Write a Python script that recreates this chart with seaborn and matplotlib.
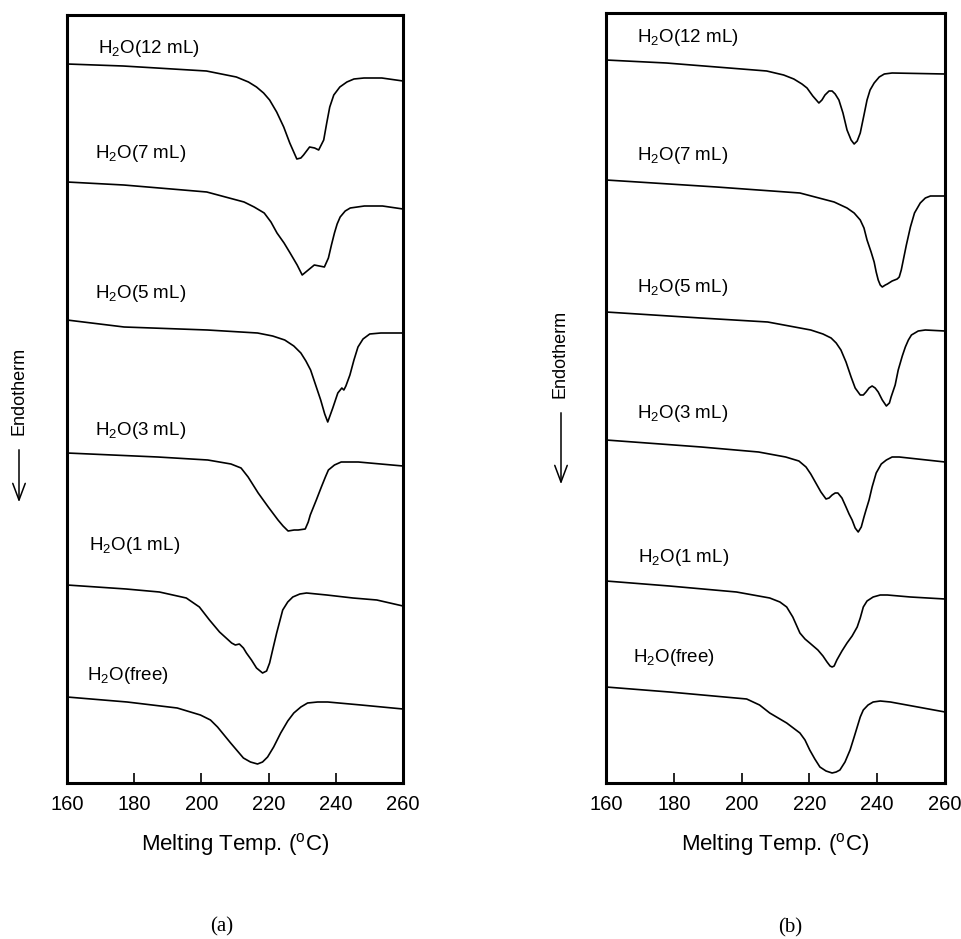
import pandas as pd
import matplotlib.pyplot as plt
import seaborn as sns

sns.set_style('white')
plt.rcParams['font.family'] = ['Liberation Sans', 'DejaVu Sans']
plt.rcParams['mathtext.fontset'] = 'custom'
plt.rcParams['mathtext.rm'] = 'Liberation Sans'
plt.rcParams['mathtext.it'] = 'Liberation Sans:italic'
plt.rcParams['text.color'] = 'black'
plt.rcParams['axes.labelcolor'] = 'black'
plt.rcParams['xtick.color'] = 'black'

# DSC traces: temperature (C) and signal (arbitrary units, stacked)
names = ['12 mL', '7 mL', '5 mL', '3 mL', '1 mL', 'free']

# panel (a)
a_12_t = [160, 176.7, 201.5, 210.4, 214, 216.4, 218.5, 220.3, 222.4, 224.5, 226.3, 228.4, 229.6, 230.4, 232.2,
          233.7, 234.9, 236.4, 237.3, 238.2, 239.4, 241.2, 243.3, 245.4, 248.4, 253.7, 260]
a_12_v = [719, 717, 712, 706, 701, 696, 690, 683, 671, 656, 640, 624, 625, 628, 636,
          635, 633, 643, 660, 676, 688, 696, 701, 704, 705, 705, 702]
a_7_t = [160, 176.9, 201.6, 212.7, 215.7, 218.7, 220.7, 222.5, 224.6, 226.4, 228.5, 230, 231.8, 233.6, 235.1,
         236.6, 237.8, 238.7, 239.6, 240.4, 241.3, 242.8, 244.3, 248.5, 253.9, 260]
a_7_v = [601, 598, 591, 581, 576, 570, 561, 550, 540, 530, 518, 508, 513, 518, 517,
         516, 525, 538, 550, 559, 566, 572, 575, 577, 577, 574]
a_5_t = [160, 177, 201.8, 216.7, 221.2, 224.8, 227.5, 229.6, 231.1, 232.5, 234, 235.5, 236.7, 237.6, 239.1,
         240.6, 241.8, 242.4, 243, 244.2, 245.4, 246.6, 248.1, 250.1, 253.4, 260]
a_5_v = [463, 456, 453, 450, 447, 443, 437, 430, 422, 413, 398, 383, 369, 361, 375,
         390, 395, 393, 397, 408, 423, 436, 444, 449, 450, 450]
a_3_t = [160, 187, 201.9, 208.8, 211.8, 213.9, 215.4, 216.9, 219.9, 222.8, 224.3, 225.8, 227.6, 228.8, 230.9,
         231.8, 232.4, 234.2, 235.7, 236.9, 237.8, 239.6, 241.6, 246.7, 260]
a_3_v = [330, 326, 323, 319, 315, 306, 298, 290, 276, 263, 257, 252, 253, 253, 254,
         261, 268, 283, 296, 306, 313, 318, 321, 321, 317]
a_1_t = [160, 177.6, 187.5, 195.5, 199.4, 202.4, 205.4, 209, 210.1, 211.3, 212.5, 213.4, 214.9, 216.4, 218.2,
         219.4, 220.3, 221.2, 222.4, 224.2, 225.7, 227.2, 229.3, 231.3, 237.3, 245.1, 252.2, 260]
a_1_v = [198, 194, 191, 185, 176, 163, 151, 140, 138, 139, 135, 130, 123, 115, 110,
         112, 120, 133, 150, 173, 181, 186, 189, 190, 188, 185, 183, 177]
a_f_t = [160, 177.9, 192.8, 199.7, 202.7, 204.8, 208.7, 212.5, 214.6, 216.7, 218.2, 219.7, 221.5, 223.6, 225.7,
         227.5, 229.6, 231.6, 234.6, 237.6, 247.5, 260]
a_f_v = [86, 81, 75, 68, 63, 56, 40, 25, 21, 19, 21, 26, 36, 50, 62,
         70, 76, 80, 81, 81, 78, 74]

# panel (b)
b_12_t = [160, 177.8, 192.6, 207.4, 212.4, 215.4, 217.8, 219.3, 221, 222.8, 223.7, 224.6, 225.8, 226.7, 227.6,
          228.7, 229.9, 231.1, 232.3, 233.2, 234.1, 235, 236.1, 237, 237.9, 239.1, 240.6, 242.1, 244.4, 260]
b_12_v = [723, 720, 716, 712, 708, 704, 699, 695, 687, 680, 683, 688, 692, 692, 689,
          683, 670, 653, 643, 639, 642, 650, 668, 683, 693, 700, 706, 709, 710, 709]
b_7_t = [160, 192.6, 217.2, 227.3, 231.1, 233.2, 235, 236.1, 237, 238.2, 239.1, 239.7, 240.3, 240.9, 241.5,
         242.4, 243, 244.4, 245.9, 246.5, 247.1, 247.7, 248.6, 249.8, 251, 252.7, 254.2, 255.7, 260]
b_7_v = [603, 596, 590, 581, 575, 570, 563, 555, 543, 531, 521, 511, 503, 498, 496,
         498, 499, 502, 504, 506, 513, 523, 538, 556, 570, 580, 585, 587, 587]
b_5_t = [160, 187.9, 207.7, 220.4, 224, 226.4, 227.9, 229.3, 230.8, 232.3, 233.5, 235, 235.9, 236.7, 237.6,
         238.5, 239.4, 240.3, 241.5, 242.7, 243.6, 244.1, 245.3, 246.2, 247.4, 248.3, 249.2, 250.1, 252.1, 254.2, 260]
b_5_v = [471, 465, 461, 453, 449, 445, 440, 433, 421, 406, 395, 388, 388, 391, 395,
         397, 395, 391, 383, 377, 380, 386, 398, 413, 427, 436, 443, 448, 452, 453, 452]
b_3_t = [160, 188.1, 205, 213, 216.9, 219, 220.4, 221.9, 223.4, 224.9, 225.8, 226.7, 227.6, 228.4, 229.6,
         230.8, 231.7, 232.6, 233.5, 234.4, 235.3, 236.1, 236.7, 237.6, 238.5, 239.7, 241.2, 242.7, 244.4, 246.5, 260]
b_3_v = [343, 336, 331, 326, 322, 316, 309, 300, 291, 284, 285, 288, 290, 290, 285,
         276, 269, 263, 255, 251, 256, 266, 273, 283, 296, 310, 319, 323, 326, 326, 321]
b_1_t = [160, 178.7, 198.5, 208.3, 211.3, 213.3, 215.1, 217.2, 218.7, 220.1, 222.5, 224, 225.2, 226.1, 226.7,
         227.3, 228.1, 229.6, 231.1, 232.6, 234.1, 235, 235.9, 237, 238.8, 240.9, 243, 249.8, 260]
b_1_v = [202, 197, 191, 185, 181, 176, 166, 150, 144, 140, 133, 127, 121, 117, 116,
         117, 123, 132, 140, 147, 156, 165, 176, 182, 186, 188, 188, 186, 184]
b_f_t = [160, 178.7, 201.5, 205.3, 208.3, 213.3, 217.2, 218.7, 220.1, 221.6, 223.1, 224.9, 226.7, 227.9, 229,
         230.5, 232, 233.2, 234.1, 235, 235.9, 237.3, 238.8, 240.9, 243.9, 260]
b_f_v = [96, 91, 84, 78, 70, 60, 50, 43, 33, 24, 16, 12, 10, 11, 13,
         21, 33, 46, 56, 66, 73, 78, 81, 82, 81, 71]

# label anchors (temperature, signal) for each trace
a_lab_t = [169.3, 168.4, 168.4, 168.4, 166.6, 166.0]
a_lab_v = [735, 630, 490, 353, 238, 108]
b_lab_t = [169.2, 169.2, 169.2, 169.2, 169.5, 168.0]
b_lab_v = [745, 628, 495, 370, 226, 125]

panels = {
    'a': [(a_12_t, a_12_v), (a_7_t, a_7_v), (a_5_t, a_5_v), (a_3_t, a_3_v), (a_1_t, a_1_v), (a_f_t, a_f_v)],
    'b': [(b_12_t, b_12_v), (b_7_t, b_7_v), (b_5_t, b_5_v), (b_3_t, b_3_v), (b_1_t, b_1_v), (b_f_t, b_f_v)],
}
labels = {'a': (a_lab_t, a_lab_v), 'b': (b_lab_t, b_lab_v)}

W, H = 961, 939
fig = plt.figure(figsize=(W / 100, H / 100), dpi=100)
ax_a = fig.add_axes([67 / W, 156 / H, 336 / W, 768 / H])
ax_b = fig.add_axes([606 / W, 156 / H, 339 / W, 770 / H])

for key, ax in [('a', ax_a), ('b', ax_b)]:
    for name, (t, v) in zip(names, panels[key]):
        df = pd.DataFrame({'T': t, 'v': v})
        sns.lineplot(data=df, x='T', y='v', ax=ax, color='black', lw=1.2,
                     sort=False, estimator=None)
    for name, lt, lv in zip(names, *labels[key]):
        ax.text(lt, lv, r'H$_2$O(' + name + ')', fontsize=13.5, ha='left', va='center')

    ax.set_xlim(160, 260)
    ax.set_ylim(0, 768 if key == 'a' else 770)
    ax.set_xticks([160, 180, 200, 220, 240, 260])
    ax.set_yticks([])
    ax.tick_params(axis='x', direction='in', length=7, width=1.2, labelsize=14.5, pad=9,
                   bottom=True, colors='black')
    ax.set_xlabel(r'Melting Temp. ($^{\rm o}$C)', fontsize=16, labelpad=12)
    ax.set_ylabel('')
    for s in ax.spines.values():
        s.set_visible(True)
        s.set_linewidth(2.2)
        s.set_color('black')

# Endotherm markers
fig.text(19 / W, 1 - 391 / H, 'Endotherm', rotation=90, fontsize=13, ha='center', va='center')
fig.text(560 / W, 1 - 354 / H, 'Endotherm', rotation=90, fontsize=13, ha='center', va='center')
for x, y0, y1 in [(19, 447, 505), (561, 410, 487)]:
    fig.add_artist(plt.Annotation('', xy=(x / W, 1 - y1 / H), xytext=(x / W, 1 - y0 / H),
                                  xycoords='figure fraction', textcoords='figure fraction',
                                  arrowprops=dict(arrowstyle='->,head_length=1.2,head_width=0.45',
                                                  lw=1.1, color='black')))

fig.text(222 / W, 1 - 927 / H, '(a)', family='Liberation Serif', fontsize=15, ha='center', va='center')
fig.text(790 / W, 1 - 928 / H, '(b)', family='Liberation Serif', fontsize=15, ha='center', va='center')

fig.savefig('out.png', dpi=100)
